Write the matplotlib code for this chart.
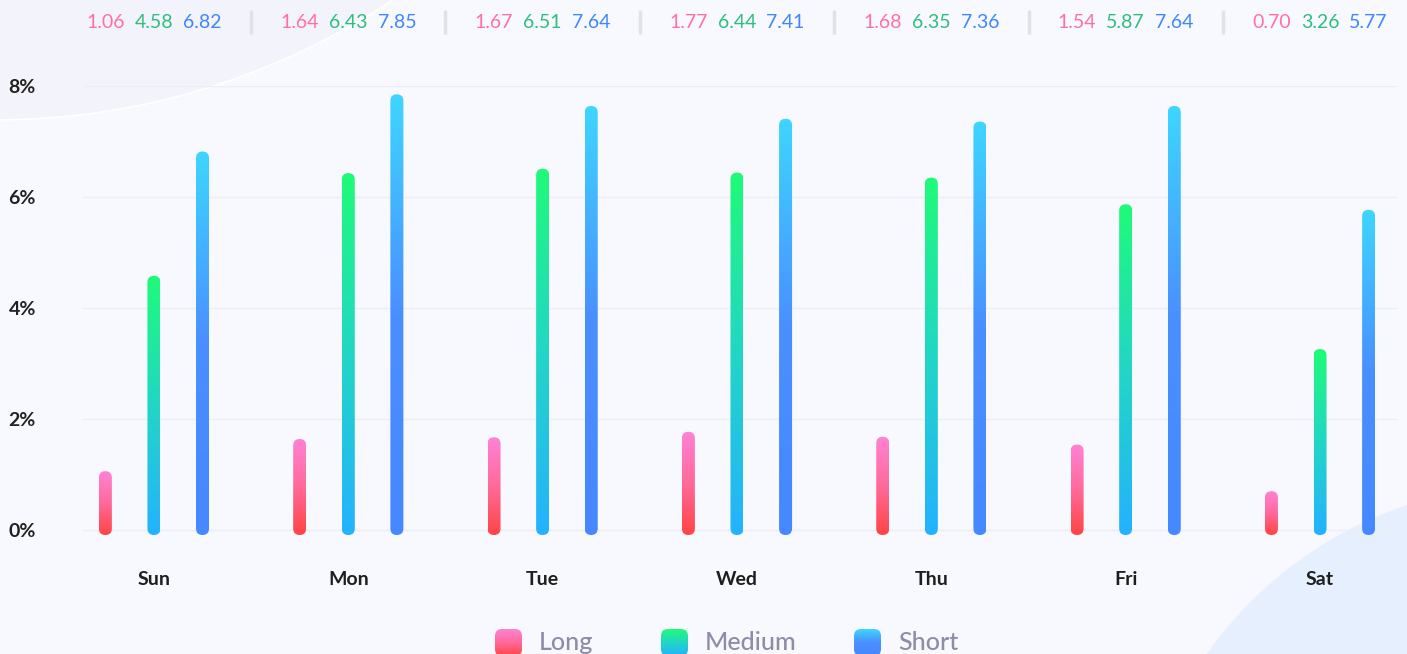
import numpy as np
import matplotlib.pyplot as plt
from matplotlib.colors import LinearSegmentedColormap
from matplotlib.patches import FancyBboxPatch, Circle
from matplotlib.transforms import blended_transform_factory

plt.rcParams['font.family'] = ['Lato', 'DejaVu Sans']

# daily share per duration bucket (%)
days = ['Sun', 'Mon', 'Tue', 'Wed', 'Thu', 'Fri', 'Sat']
long_vals = [1.06, 1.64, 1.67, 1.77, 1.68, 1.54, 0.70]
medium_vals = [4.58, 6.43, 6.51, 6.44, 6.35, 5.87, 3.26]
short_vals = [6.82, 7.85, 7.64, 7.41, 7.36, 7.64, 5.77]
series_names = ['Long', 'Medium', 'Short']
yticks = [0, 2, 4, 6, 8]

# gradient stops, top -> bottom
grad_long = ['#ff82d6', '#ff6a9a', '#ff4444']
grad_medium = ['#1ffb78', '#22d6c6', '#24b2ff']
grad_short = ['#3ed6ff', '#4a8fff', '#4688ff']
text_cols = ['#ff6fa6', '#2dbf7c', '#3f86ff']

W, H = 1407, 654
fig = plt.figure(figsize=(W / 100, H / 100), dpi=100, facecolor='#f8f9fe')

# decorative background, pixel units with y going up
bg = fig.add_axes([0, 0, 1, 1], zorder=0)
bg.set_xlim(0, W)
bg.set_ylim(0, H)
bg.axis('off')
bg.add_patch(Circle((-5, H + 600), 720, facecolor='#f3f3fc', edgecolor='#ffffff', lw=1.2))
bg.add_patch(Circle((1535, H - 886), 402, facecolor='#e5effd', edgecolor='none'))

ax_l, ax_r, ax_t, ax_b = 83, 1397, 86, 545
ax = fig.add_axes([ax_l / W, (H - ax_b) / H, (ax_r - ax_l) / W, (ax_b - ax_t) / H], zorder=1)
ax.set_facecolor('none')
ax.set_xlim(-0.365, 6.396)
y_lo = -(ax_b - 530) / 55.5
ax.set_ylim(y_lo, 8)
for s in ax.spines.values():
    s.set_visible(False)
ax.tick_params(length=0)
ax.set_yticks(yticks)
ax.set_yticklabels([f'{t}%' for t in yticks], fontsize=14, fontweight='bold', color='#222222')
ax.tick_params(axis='y', pad=34)
x = np.arange(len(days))
ax.set_xticks(x)
ax.set_xticklabels(days, fontsize=14, fontweight='bold', color='#1e1e1e')
ax.tick_params(axis='x', pad=19)
for t in yticks:
    ax.axhline(t, color='#eceef4', lw=1, zorder=0)

# aspect between data units for rounded corners
p0 = ax.transData.transform((0, 0))
p1 = ax.transData.transform((1, 1))
px_x, px_y = p1[0] - p0[0], p1[1] - p0[1]
aspect = px_x / px_y

bar_w = 13 / px_x
offs = [-0.25, 0, 0.25]
bottom = -5 / px_y


def grad_bar(axis, x0, x1, y0, y1, stops, rs, mut):
    cmap = LinearSegmentedColormap.from_list('g', stops)
    g = np.linspace(0, 1, 256).reshape(-1, 1)
    patch = FancyBboxPatch((x0, y0), x1 - x0, y1 - y0,
                           boxstyle=f'round,pad=0,rounding_size={rs}',
                           mutation_aspect=mut, facecolor='none', edgecolor='none')
    axis.add_patch(patch)
    im = axis.imshow(g, cmap=cmap, extent=[x0, x1, y0, y1], origin='upper',
                     aspect='auto', interpolation='bicubic', zorder=2)
    im.set_clip_path(patch)


all_vals = [long_vals, medium_vals, short_vals]
grads = [grad_long, grad_medium, grad_short]
for vals, off, gr in zip(all_vals, offs, grads):
    for xi, v in zip(x, vals):
        cx = xi + off
        grad_bar(ax, cx - bar_w / 2, cx + bar_w / 2, bottom, v, gr, bar_w / 2, aspect)
ax.set_xlim(-0.365, 6.396)
ax.set_ylim(y_lo, 8)

# values row across the top
top_tr = blended_transform_factory(ax.transData, fig.transFigure)
for vals, off, col in zip(all_vals, offs, text_cols):
    for xi, v in zip(x, vals):
        ax.text(xi + off, 1 - 22 / H, f'{v:.2f}', transform=top_tr, ha='center', va='center',
                fontsize=14, color=col, clip_on=False)
for xi in x[:-1]:
    ax.plot([xi + 0.5, xi + 0.5], [1 - 10 / H, 1 - 34 / H], transform=top_tr,
            color='#e1e2e9', lw=2.5, clip_on=False, solid_capstyle='butt')

# legend
sw_x = [495, 661, 854]
for sx, name, gr in zip(sw_x, series_names, grads):
    grad_bar(bg, sx, sx + 27, H - 656, H - 629, gr, 7, 1)
    bg.text(sx + 44, H - 642, name, fontsize=18, fontweight='medium', color='#8f8ba8',
            va='center', ha='left')
bg.set_xlim(0, W)
bg.set_ylim(0, H)

fig.savefig('out.png', dpi=100, facecolor=fig.get_facecolor())
